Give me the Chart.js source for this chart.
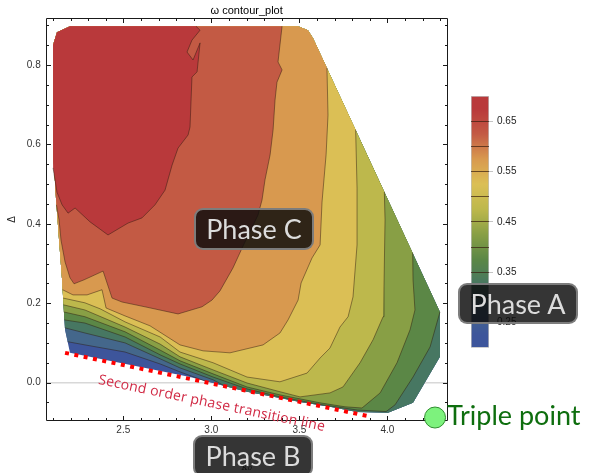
<!DOCTYPE html>
<html>
<head>
<meta charset="utf-8">
<title>omega contour plot</title>
<script src="https://cdn.jsdelivr.net/npm/chart.js@4.4.1/dist/chart.umd.min.js"></script>
<style>
  html, body { margin: 0; padding: 0; background: #fff; }
  #wrap { position: relative; width: 590px; height: 473px; overflow: hidden; }
  canvas { position: absolute; top: 0; }
  #plot { left: 0; }
  #legend { left: 471px; }
  .phase { position: absolute; box-sizing: border-box; height: 42px; width: 120px; background: rgba(12,12,12,0.83);
           border: 2.5px solid rgba(130,130,130,0.95); border-radius: 9px; color: #dcdcdc;
           font: 27px Lato, "Open Sans", sans-serif; line-height: 37px; text-align: center; white-space: nowrap; }
  #transition { position: absolute; left: 212px; top: 402px; transform: translate(-50%, -50%) rotate(11.8deg);
                color: #d12a45; font: 14px "Open Sans", sans-serif; letter-spacing: 0.2px; white-space: nowrap; }
  #triple { position: absolute; left: 447px; top: 401px; color: #0e6e0e; font: 27px Lato, sans-serif;
            line-height: 27px; white-space: nowrap; }
</style>
</head>
<body>
<div id="wrap">
  <canvas id="plot" width="590" height="473"></canvas>
  <canvas id="legend" width="119" height="473"></canvas>
  <div class="phase" style="left:194px;top:208px;">Phase C</div>
  <div class="phase" style="left:458px;top:283px;height:41px;">Phase A</div>
  <div class="phase" style="left:193px;top:435px;">Phase B</div>
  <div id="transition">Second order phase transition line</div>
  <div id="triple">Triple point</div>
</div>
<script>
// axes
const xRange = [2.059, 4.343];
const yRange = [-0.096, 0.918];
const xTicks = [2.5, 3.0, 3.5, 4.0];
const yTicks = [0.0, 0.2, 0.4, 0.6, 0.8];
const xMinor = [2.1, 2.2, 2.3, 2.4, 2.5, 2.6, 2.7, 2.8, 2.9, 3.0, 3.1, 3.2, 3.3, 3.4, 3.5, 3.6, 3.7, 3.8, 3.9, 4.0, 4.1, 4.2, 4.3];
const yMinor = [-0.05, 0, 0.05, 0.1, 0.15, 0.2, 0.25, 0.3, 0.35, 0.4, 0.45, 0.5, 0.55, 0.6, 0.65, 0.7, 0.75, 0.8, 0.85, 0.9];

// contour levels of omega and the colour of the band above each level
const levels = [0.20, 0.25, 0.30, 0.35, 0.40, 0.45, 0.50, 0.55, 0.60, 0.65];
const bandColors = ['#3d559b', '#44678b', '#477762', '#5b8746', '#889f45', '#bdb84c', '#dbbf55', '#d8994f', '#c35a44', '#b9393b'];
const colorbarTicks = [0.2, 0.25, 0.3, 0.35, 0.4, 0.45, 0.5, 0.55, 0.6, 0.65, 0.7];
const colorbarLabels = [0.25, 0.35, 0.45, 0.55, 0.65];

// outline of the computed (kappa0, Delta) domain, clockwise from the lower-left corner
const domainEdge = [[2.197,0.075],[2.169,0.133],[2.152,0.259],[2.135,0.359],[2.118,0.460],[2.101,0.586],
  [2.101,0.851],[2.123,0.883],[2.197,0.898],[3.493,0.898],[3.549,0.888],[3.578,0.868],[4.299,0.178],
  [4.299,0.065],[4.146,-0.051],[4.004,-0.076],[3.828,-0.074],[3.674,-0.061],[3.504,-0.049],[3.390,-0.039],
  [3.203,-0.023],[3.010,-0.001],[2.879,0.014]];

// contour lines (kappa0, Delta)
const line25 = [[2.184,0.103],[2.282,0.095],[2.510,0.077],[2.709,0.047],[2.822,0.027],[2.964,0.004]];
const line30 = [[2.168,0.138],[2.282,0.125],[2.510,0.100],[2.709,0.060],[2.822,0.037],[3.010,0.007],[3.078,-0.009]];
const line35 = [[2.165,0.158],[2.282,0.150],[2.510,0.115],[2.709,0.070],[2.822,0.047],[3.010,0.014],[3.203,-0.016],
  [3.390,-0.036],[3.618,-0.055],[3.828,-0.069],[3.993,-0.073],[4.044,-0.056],[4.146,0.014],[4.243,0.090],[4.299,0.178]];
const line40 = [[2.162,0.178],[2.282,0.166],[2.510,0.128],[2.709,0.082],[2.822,0.055],[3.010,0.022],[3.203,-0.011],
  [3.390,-0.031],[3.618,-0.051],[3.760,-0.061],[3.856,-0.064],[3.959,-0.026],[4.055,0.050],[4.129,0.133],
  [4.157,0.183],[4.146,0.259],[4.144,0.327]];
const line45 = [[2.160,0.196],[2.282,0.183],[2.510,0.140],[2.709,0.097],[2.822,0.065],[3.010,0.032],[3.203,-0.001],
  [3.390,-0.023],[3.504,-0.036],[3.674,-0.026],[3.748,-0.011],[3.845,0.050],[3.919,0.108],[3.976,0.166],
  [3.981,0.241],[3.987,0.410],[3.983,0.480]];
const line50 = [[2.158,0.213],[2.282,0.201],[2.368,0.186],[2.510,0.153],[2.709,0.115],[2.822,0.077],[3.010,0.050],
  [3.203,0.014],[3.390,0.002],[3.544,0.024],[3.618,0.062],[3.674,0.087],[3.731,0.140],[3.777,0.166],[3.805,0.216],
  [3.828,0.347],[3.828,0.490],[3.820,0.637]];
const line55 = [[2.155,0.234],[2.214,0.221],[2.294,0.221],[2.379,0.234],[2.402,0.188],[2.510,0.168],[2.652,0.143],
  [2.822,0.095],[2.953,0.080],[3.106,0.075],[3.294,0.095],[3.390,0.125],[3.436,0.158],[3.493,0.208],[3.510,0.251],
  [3.572,0.314],[3.618,0.347],[3.629,0.455],[3.652,0.574],[3.663,0.674],[3.657,0.793]];
const line60 = [[2.120,0.448],[2.135,0.410],[2.146,0.359],[2.169,0.304],[2.197,0.264],[2.220,0.249],[2.277,0.259],
  [2.385,0.281],[2.436,0.213],[2.493,0.203],[2.623,0.191],[2.811,0.173],[2.947,0.191],[3.004,0.208],[3.049,0.231],
  [3.123,0.289],[3.180,0.344],[3.265,0.422],[3.288,0.460],[3.305,0.511],[3.334,0.574],[3.351,0.637],[3.362,0.712],
  [3.373,0.757],[3.402,0.788],[3.379,0.808],[3.402,0.898]];
const line65 = [[2.101,0.541],[2.123,0.480],[2.152,0.448],[2.186,0.427],[2.226,0.440],[2.311,0.405],[2.413,0.372],
  [2.527,0.402],[2.606,0.415],[2.680,0.448],[2.737,0.485],[2.777,0.548],[2.811,0.591],[2.868,0.624],[2.879,0.644],
  [2.890,0.770],[2.919,0.783],[2.936,0.856],[2.896,0.813],[2.862,0.833],[2.890,0.863],[2.936,0.888],[2.913,0.898]];
const contourLines = [line25, line30, line35, line40, line45, line50, line55, line60, line65];
// which stretch of the domain edge closes each region above a contour line
const edgeSpans = [[1,21],[2,20],[2,11],[2,11],[2,11],[2,11],[2,11],[4,8],[5,8]];

const transitionLine = [[2.169,0.075],[3.885,-0.084]];
const triplePoint = [4.271, -0.088];

const pt = p => ({ x: p[0], y: p[1] });

const regions = levels.map((lv, k) => {
  if (k === 0) return domainEdge.map(pt);
  const [a, b] = edgeSpans[k - 1];
  return domainEdge.slice(a, b + 1).concat(contourLines[k - 1].slice().reverse()).map(pt);
});

const datasets = [];
regions.forEach((pts, k) => {
  datasets.push({
    label: 'omega >= ' + levels[k],
    data: pts, showLine: true, fill: 'shape',
    backgroundColor: bandColors[k], borderColor: 'transparent', borderWidth: 0,
    pointRadius: 0, order: 100 - k
  });
});
contourLines.forEach((ln, k) => {
  datasets.push({
    label: 'omega = ' + levels[k + 1],
    data: ln.map(pt), showLine: true, fill: false,
    borderColor: 'rgba(45,25,15,0.6)', borderWidth: 0.8, pointRadius: 0, order: 10
  });
});
datasets.push({
  label: 'Second order phase transition line',
  data: transitionLine.map(pt), showLine: true, fill: false,
  borderColor: '#ff0000', borderWidth: 4, borderDash: [4, 5.5], borderCapStyle: 'butt',
  pointRadius: 0, order: 5, clip: false
});
datasets.push({
  label: 'Triple point',
  data: [pt(triplePoint)], showLine: false,
  pointRadius: 10.5, pointBackgroundColor: '#7df27d', pointBorderColor: '#2f8f2f', pointBorderWidth: 1,
  order: 1, clip: false
});

const framePlugin = {
  id: 'frame',
  beforeDatasetsDraw(chart) {
    const { ctx, chartArea: a, scales: { x, y } } = chart;
    const l = Math.round(a.left) + 0.5, r = Math.round(a.right) - 0.5;
    const t = Math.round(a.top) + 0.5, b = Math.round(a.bottom) - 0.5;
    ctx.save();
    ctx.strokeStyle = '#1a1a1a';
    ctx.lineWidth = 1;
    ctx.beginPath();
    ctx.rect(l, t, r - l, b - t);
    xMinor.forEach(v => {
      const px = Math.round(x.getPixelForValue(v)) + 0.5;
      const len = xTicks.includes(v) ? 4.5 : 2.5;
      ctx.moveTo(px, b); ctx.lineTo(px, b - len);
      ctx.moveTo(px, t); ctx.lineTo(px, t + len);
    });
    yMinor.forEach(v => {
      const py = Math.round(y.getPixelForValue(v)) + 0.5;
      const len = yTicks.includes(v) ? 4.5 : 2.5;
      ctx.moveTo(l, py); ctx.lineTo(l + len, py);
      ctx.moveTo(r, py); ctx.lineTo(r - len, py);
    });
    ctx.stroke();
    ctx.restore();
  }
};

const tickFont = { family: '"Liberation Sans", Arial, sans-serif', size: 10 };

new Chart(document.getElementById('plot'), {
  type: 'scatter',
  data: { datasets: datasets },
  options: {
    responsive: false,
    animation: false,
    events: [],
    layout: { padding: { left: 0, right: 142.3, top: 0, bottom: 0 } },
    elements: { line: { tension: 0 } },
    plugins: {
      legend: { display: false },
      tooltip: { enabled: false },
      title: {
        display: true, text: 'ω contour_plot', fullSize: false, color: '#000',
        font: { family: '"Liberation Sans", Arial, sans-serif', size: 11, weight: 'normal' },
        padding: { top: 4, bottom: 1.1 }
      }
    },
    scales: {
      x: {
        type: 'linear', min: xRange[0], max: xRange[1],
        afterBuildTicks: s => { s.ticks = xTicks.map(v => ({ value: v })); },
        afterFit: s => { s.height = 52.3; s.paddingLeft = 0; s.paddingRight = 0; },
        grid: { display: false, drawTicks: false },
        border: { display: false },
        ticks: { font: tickFont, color: '#333', padding: 4, maxRotation: 0, callback: v => v.toFixed(1) },
        title: { display: true, text: 'κ₀', color: '#222', font: { family: '"DejaVu Serif", serif', size: 10, style: 'italic' }, padding: { top: 20, bottom: 0 } }
      },
      y: {
        type: 'linear', min: yRange[0], max: yRange[1],
        afterBuildTicks: s => { s.ticks = yTicks.map(v => ({ value: v })); },
        afterFit: s => { s.width = 45.7; s.paddingTop = 0; s.paddingBottom = 0; },
        grid: { drawTicks: false, lineWidth: 1.5, color: c => (c.tick && c.tick.value === 0 ? '#d8d8d8' : 'transparent') },
        border: { display: false },
        ticks: { font: tickFont, color: '#333', padding: 5, callback: v => v.toFixed(1) },
        title: { display: true, text: 'Δ', color: '#222', font: { family: '"Liberation Sans", Arial, sans-serif', size: 10 }, padding: { top: 6, bottom: 0 } }
      }
    }
  },
  plugins: [framePlugin]
});

// colour bar
new Chart(document.getElementById('legend'), {
  type: 'bar',
  data: {
    labels: [''],
    datasets: [{
      data: [[colorbarTicks[0], colorbarTicks[colorbarTicks.length - 1]]],
      barPercentage: 1, categoryPercentage: 1,
      borderWidth: 1, borderColor: 'rgba(0,0,0,0.25)', borderSkipped: false,
      backgroundColor: c => {
        const chart = c.chart;
        if (!chart.chartArea) return bandColors[0];
        const ys = chart.scales.y;
        const lo = colorbarTicks[0], hi = colorbarTicks[colorbarTicks.length - 1];
        const g = chart.ctx.createLinearGradient(0, ys.getPixelForValue(lo), 0, ys.getPixelForValue(hi));
        g.addColorStop(0, bandColors[0]);
        bandColors.forEach((col, k) => g.addColorStop((levels[k] + 0.025 - lo) / (hi - lo), col));
        g.addColorStop(1, bandColors[bandColors.length - 1]);
        return g;
      }
    }]
  },
  options: {
    responsive: false,
    animation: false,
    events: [],
    layout: { padding: { left: 0, right: 0, top: 96, bottom: 125.3 } },
    plugins: { legend: { display: false }, tooltip: { enabled: false } },
    scales: {
      x: { display: false },
      y: {
        position: 'right', min: 0.2, max: 0.7,
        afterBuildTicks: s => { s.ticks = colorbarTicks.map(v => ({ value: v })); },
        afterFit: s => { s.width = 101; s.paddingTop = 0; s.paddingBottom = 0; },
        grid: {
          z: 1, tickLength: 4, lineWidth: 1,
          color: c => (c.tick && c.tick.value > 0.2 && c.tick.value < 0.7 ? 'rgba(55,30,15,0.7)' : 'transparent'),
          tickColor: c => (c.tick && colorbarLabels.includes(c.tick.value) ? '#c4c4c4' : 'transparent')
        },
        border: { display: false },
        ticks: { font: tickFont, color: '#222', padding: 4, callback: v => (colorbarLabels.includes(v) ? v.toFixed(2) : '') }
      }
    }
  }
});
</script>
</body>
</html>
